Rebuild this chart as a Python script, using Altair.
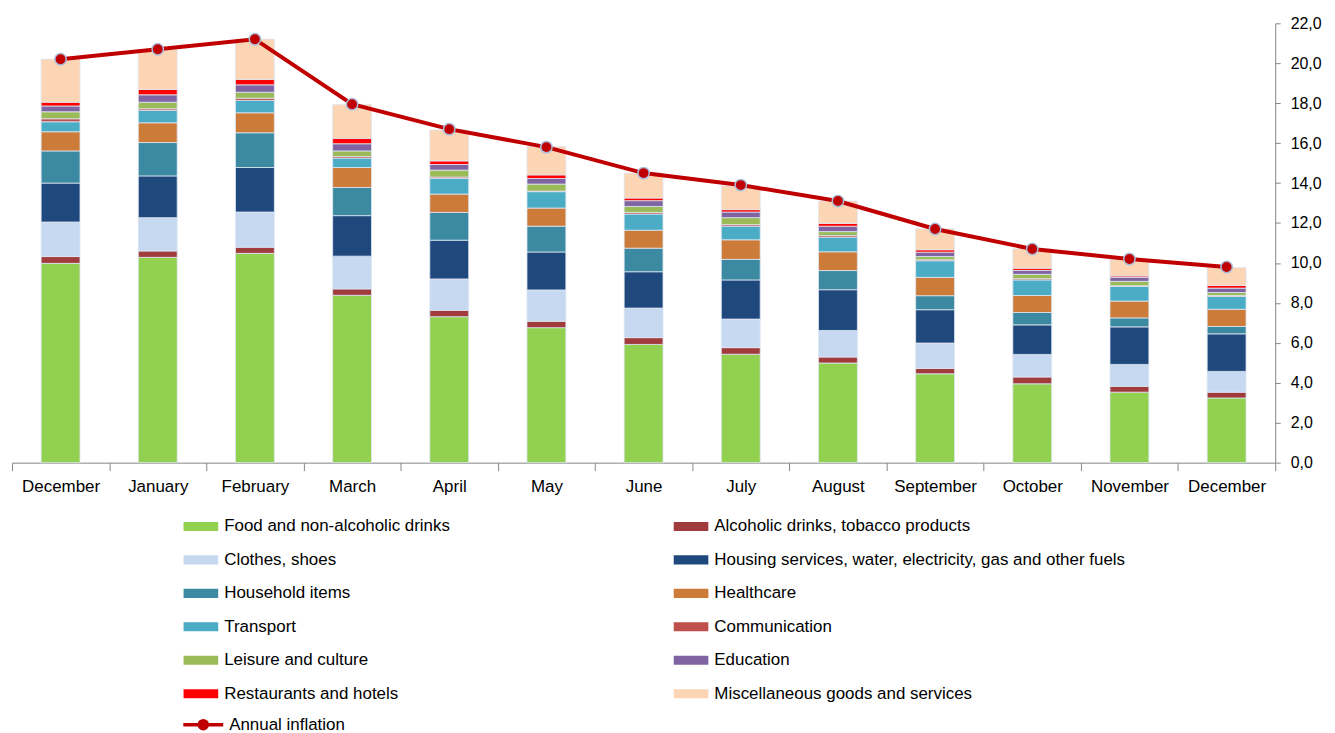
import json
import altair as alt
import pandas as pd

MONTHS = ["December", "January", "February", "March", "April", "May", "June",
          "July", "August", "September", "October", "November", "December"]

CATEGORIES = [
    "Food and non-alcoholic drinks",
    "Alcoholic drinks, tobacco products",
    "Clothes, shoes",
    "Housing services, water, electricity, gas and other fuels",
    "Household items",
    "Healthcare",
    "Transport",
    "Communication",
    "Leisure and culture",
    "Education",
    "Restaurants and hotels",
    "Miscellaneous goods and services",
]

COLORS = ["#92D050", "#A03C3C", "#C6D9F1", "#1F497D", "#3C8AA2", "#CD7B39",
          "#4BACC6", "#C0504D", "#9BBB59", "#8064A2", "#FF0000", "#FCD5B5"]

# contributions (percentage points), one list per category, 13 months
food = [9.98, 10.28, 10.48, 8.38, 7.31, 6.76, 5.92, 5.43, 4.99, 4.45, 3.95, 3.53, 3.24]
alcohol = [0.34, 0.32, 0.31, 0.32, 0.32, 0.32, 0.34, 0.33, 0.30, 0.27, 0.34, 0.29, 0.29]
clothes = [1.73, 1.67, 1.76, 1.64, 1.57, 1.57, 1.48, 1.43, 1.33, 1.27, 1.13, 1.10, 1.04]
housing = [1.95, 2.09, 2.23, 2.03, 1.94, 1.90, 1.82, 1.96, 2.04, 1.67, 1.48, 1.88, 1.88]
household = [1.61, 1.67, 1.74, 1.41, 1.39, 1.29, 1.18, 1.03, 0.96, 0.70, 0.62, 0.45, 0.37]
healthcare = [0.96, 0.99, 1.00, 1.00, 0.92, 0.91, 0.90, 0.98, 0.94, 0.92, 0.85, 0.84, 0.86]
transport = [0.50, 0.62, 0.62, 0.47, 0.78, 0.82, 0.81, 0.68, 0.73, 0.83, 0.78, 0.73, 0.64]
communication = [0.15, 0.08, 0.11, 0.08, 0.07, 0.03, 0.08, 0.08, 0.08, 0.05, 0.06, 0.04, 0.05]
leisure = [0.35, 0.33, 0.30, 0.28, 0.35, 0.35, 0.30, 0.35, 0.20, 0.16, 0.22, 0.22, 0.15]
education = [0.29, 0.37, 0.37, 0.36, 0.28, 0.28, 0.29, 0.28, 0.27, 0.22, 0.20, 0.20, 0.22]
restaurants = [0.19, 0.27, 0.27, 0.27, 0.18, 0.18, 0.13, 0.12, 0.14, 0.12, 0.11, 0.07, 0.13]
misc = [2.16, 1.99, 2.02, 1.70, 1.55, 1.42, 1.25, 1.20, 1.12, 1.05, 0.97, 0.83, 0.90]

inflation = [20.2, 20.7, 21.2, 17.95, 16.7, 15.8, 14.5, 13.9, 13.1, 11.7, 10.7, 10.2, 9.8]

SERIES = [food, alcohol, clothes, housing, household, healthcare, transport,
          communication, leisure, education, restaurants, misc]

rows = []
for k, (cat, vals) in enumerate(zip(CATEGORIES, SERIES)):
    for i, v in enumerate(vals):
        rows.append({"idx": i, "category": cat, "value": v, "order": k})
df = pd.DataFrame(rows)

df_line = pd.DataFrame({"idx": list(range(len(MONTHS))), "inflation": inflation,
                        "series": ["Annual inflation"] * len(MONTHS)})

FONT = "Liberation Sans"
GREY = "#868686"

x_enc = alt.X(
    "idx:O",
    title=None,
    scale=alt.Scale(paddingInner=0, paddingOuter=0),
    axis=alt.Axis(
        labelExpr=json.dumps(MONTHS) + "[datum.value]",
        labelAngle=0,
        labelFont=FONT,
        labelFontSize=17,
        labelColor="#000000",
        labelPadding=8,
        domainColor=GREY,
        tickColor=GREY,
        tickSize=8,
        tickBand="extent",
        grid=False,
    ),
)

y_axis = alt.Axis(
    orient="right",
    values=list(range(0, 23, 2)),
    labelExpr="replace(format(datum.value, '.1f'), '.', ',')",
    labelFont=FONT,
    labelFontSize=16,
    labelColor="#000000",
    labelPadding=10,
    domainColor=GREY,
    tickColor=GREY,
    tickSize=5,
    grid=False,
    title=None,
)
y_scale = alt.Scale(domain=[0, 22], nice=False)

bars = alt.Chart(df).mark_bar(
    width=alt.RelativeBandSize(0.4), stroke="#DDE6F2", strokeWidth=0.8
).encode(
    x=x_enc,
    y=alt.Y("value:Q", stack="zero", scale=y_scale, axis=y_axis),
    color=alt.Color(
        "category:N",
        scale=alt.Scale(domain=CATEGORIES, range=COLORS),
        legend=alt.Legend(
            title=None,
            orient="none",
            direction="horizontal",
            legendX=172,
            legendY=495,
            columns=2,
            columnPadding=224,
            rowPadding=13.6,
            clipHeight=20,
            symbolType="M-1,-0.26H1V0.26H-1Z",
            symbolSize=1225,
            symbolStrokeWidth=0,
            labelFont=FONT,
            labelFontSize=17,
            labelColor="#000000",
            labelLimit=800,
            labelOffset=6,
        ),
    ),
    order=alt.Order("order:Q", sort="ascending"),
)

line = alt.Chart(df_line).mark_line(strokeWidth=4).encode(
    x=x_enc,
    y=alt.Y("inflation:Q", scale=y_scale, axis=y_axis),
    stroke=alt.Stroke(
        "series:N",
        scale=alt.Scale(domain=["Annual inflation"], range=["#C00000"]),
        legend=alt.Legend(
            title=None,
            orient="none",
            legendX=170,
            legendY=694,
            clipHeight=20,
            symbolType="M-1,0H1M-0.2,0A0.2,0.2,0,1,1,0.2,0A0.2,0.2,0,1,1,-0.2,0Z",
            symbolSize=1600,
            symbolStrokeWidth=3.5,
            symbolFillColor="#C00000",
            labelFont=FONT,
            labelFontSize=17,
            labelColor="#000000",
            labelLimit=400,
            labelOffset=4,
        ),
    ),
)

points = alt.Chart(df_line).mark_circle(
    size=130, color="#C00000", stroke="#A9BCD9", strokeWidth=1.5, opacity=1
).encode(
    x=x_enc,
    y=alt.Y("inflation:Q", scale=y_scale, axis=y_axis),
)

chart = alt.layer(bars, line, points).properties(
    width=1268,
    height=441,
    padding={"left": 3, "top": 6, "right": 5, "bottom": 0},
    background="#FFFFFF",
).configure_view(stroke=None)

chart.save("out.html", embed_options={"renderer": "svg", "actions": False})
